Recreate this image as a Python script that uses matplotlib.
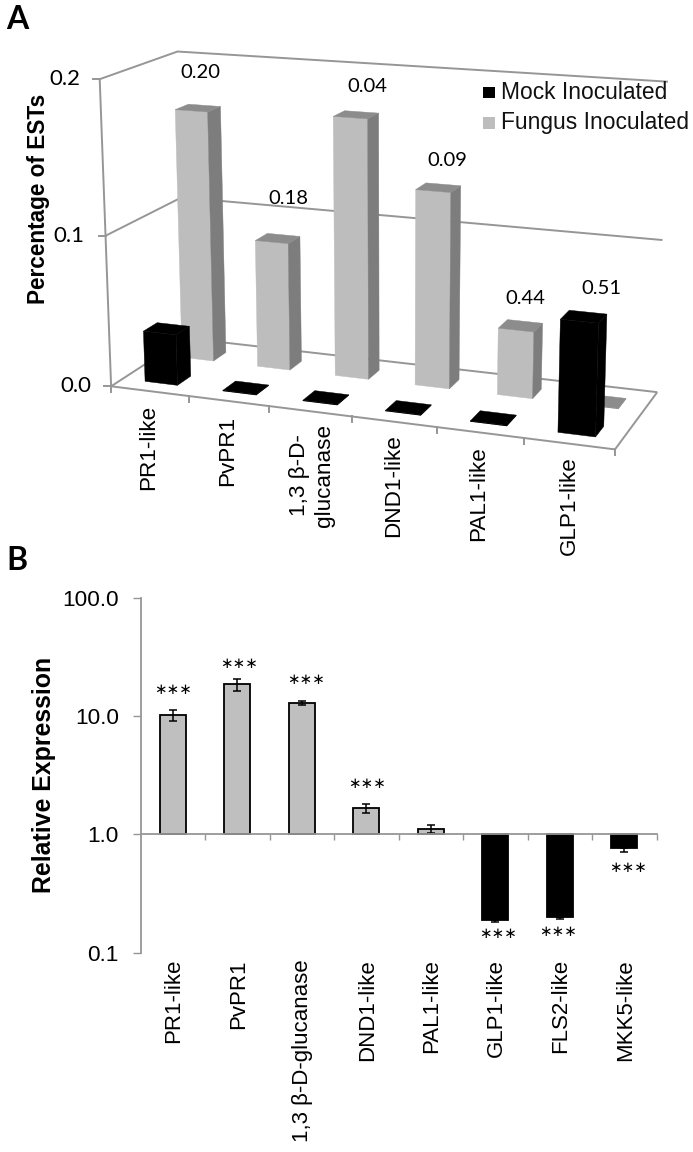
import numpy as np
import matplotlib
matplotlib.use("Agg")
import matplotlib.pyplot as plt
from matplotlib.patches import Polygon, Rectangle

plt.rcParams['font.family'] = ['Liberation Sans', 'DejaVu Sans']

# panel A data
genes_a = ['PR1-like', 'PvPR1', '1,3 β-D-\nglucanase', 'DND1-like', 'PAL1-like', 'GLP1-like']
mock = [0.034, 0.0004, 0.0004, 0.0004, 0.0004, 0.071]
fungus = [0.169, 0.086, 0.172, 0.129, 0.044, 0.0004]
pvals = ['0.20', '0.18', '0.04', '0.09', '0.44', '0.51']
ticks_a = [0.0, 0.1, 0.2]

# panel B data
genes_b = ['PR1-like', 'PvPR1', '1,3 β-D-glucanase', 'DND1-like', 'PAL1-like',
           'GLP1-like', 'FLS2-like', 'MKK5-like']
rel_expr = [10.3, 18.5, 12.9, 1.66, 1.115, 0.189, 0.201, 0.76]
err_hi = [11.3, 20.5, 13.4, 1.79, 1.205, 0.189, 0.201, 0.76]
err_lo = [9.1, 16.3, 12.4, 1.53, 1.03, 0.182, 0.192, 0.704]
signif = [True, True, True, True, False, True, True, True]

GRID = '#969696'
W, H = 693, 1152

fig = plt.figure(figsize=(W / 100, H / 100), dpi=100)
ov = fig.add_axes([0, 0, 1, 1])
ov.set_xlim(0, W)
ov.set_ylim(H, 0)
ov.axis('off')

# camera of the 3d chart, fitted on the corners of the box (u=category, v=depth, z=value)
cam_world = [(0, 0, .2), (0, 1, .2), (6, 1, .2), (0, 0, .1), (0, 1, .1), (6, 1, .1),
             (0, 0, 0), (0, 1, 0), (6, 1, 0), (6, 0, 0), (3, 0, 0)]
cam_img = [(100, 79), (177, 52), (668, 82), (106, 235), (181, 197), (663, 240),
           (111, 387), (186, 338), (657, 392), (615, 449), (351, 417)]
rows = []
for (u, v, z), (x, y) in zip(cam_world, cam_img):
    z = z * 10
    rows.append([u, v, z, 1, 0, 0, 0, 0, -x * u, -x * v, -x * z, -x])
    rows.append([0, 0, 0, 0, u, v, z, 1, -y * u, -y * v, -y * z, -y])
P = np.linalg.svd(np.array(rows, float))[2][-1].reshape(3, 4)


def proj(u, v, z):
    p = P @ np.array([u, v, z * 10, 1.0])
    return p[0] / p[2], p[1] / p[2]


def line3d(pts, **kw):
    xy = np.array([proj(*p) for p in pts])
    ov.plot(xy[:, 0], xy[:, 1], color=GRID, lw=1.4, solid_capstyle='butt', **kw)


n = len(genes_a)
for t in ticks_a:
    line3d([(0, 0, t), (0, 1, t), (n, 1, t)])
line3d([(0, 0, 0), (n, 0, 0), (n, 1, 0)])
line3d([(0, 0, 0), (0, 0, ticks_a[-1])])
for t in ticks_a:
    x, y = proj(0, 0, t)
    ov.plot([x - 7, x], [y, y], color=GRID, lw=1.4)
for i in range(n + 1):
    x, y = proj(i, 0, 0)
    ov.plot([x, x], [y, y + 6], color=GRID, lw=1.4)


def bar3d(i, off, v0, v1, val, front, side, top):
    u0, u1 = i + 0.5 + off - 0.21, i + 0.5 + off + 0.21
    faces = [([(u0, v0, 0), (u1, v0, 0), (u1, v0, val), (u0, v0, val)], front),
             ([(u1, v0, 0), (u1, v1, 0), (u1, v1, val), (u1, v0, val)], side),
             ([(u0, v0, val), (u1, v0, val), (u1, v1, val), (u0, v1, val)], top)]
    for pts, col in faces:
        # above the grid lines, which are drawn at zorder 2
        ov.add_patch(Polygon([proj(*p) for p in pts], closed=True, fc=col, ec=col, lw=0.3, zorder=2.5))


for i, val in enumerate(fungus):
    if val < 0.001:
        bar3d(i, 0.01, 0.64, 0.82, val, '#8c8c8c', '#8c8c8c', '#8c8c8c')
    else:
        bar3d(i, 0.01, 0.64, 0.82, val, '#bdbdbd', '#7d7d7d', '#8c8c8c')
for i, val in enumerate(mock):
    bar3d(i, 0.0, 0.15, 0.33, val, 'black', 'black', 'black')

# value labels of panel A
label_x = [200, 288, 367, 447, 525, 601]
label_y = [72, 198, 86, 160, 298, 288]
for x, y, s in zip(label_x, label_y, pvals):
    ov.text(x, y, s, ha='center', va='center', fontsize=14.6, family='Lato')

tick_right = [91, 84, 80]
for t, xr in zip(ticks_a, tick_right):
    ov.text(xr, proj(0, 0, t)[1], '%.1f' % t, ha='right', va='center', fontsize=16, family='Lato')

ov.text(39, 199, 'Percentage of ESTs', rotation=90, ha='center', va='center',
        fontsize=16.3, fontweight='bold')

# legend
ov.add_patch(Rectangle((483, 87), 12, 11, fc='black', ec='none'))
ov.add_patch(Rectangle((483, 117), 12, 12, fc='#bdbdbd', ec='none'))
ov.text(501, 92.5, 'Mock Inoculated', va='center', fontsize=16.4, color='#111111')
ov.text(501, 122.5, 'Fungus Inoculated', va='center', fontsize=16.4, color='#111111')

# category labels of panel A
cat_x = [149, 228, 312, 394, 479, 569]
cat_y = [405, 416, 424, 434, 446, 456]
for x, y, s in zip(cat_x, cat_y, genes_a):
    ov.text(x, y, s, rotation=90, ha='center', va='top', fontsize=16.2, linespacing=1.3,
            multialignment='center')

ov.text(6, 29, 'A', fontsize=23, fontweight='bold', family='Lato', va='baseline')
ov.text(6, 570, 'B', fontsize=23, fontweight='bold', family='Lato', va='baseline')

# panel B
ax = fig.add_axes([140.5 / W, 1 - 952.7 / H, 516 / W, 355 / H])
x = np.arange(len(genes_b)) + 0.5
ax.set_yscale('log')
ax.set_ylim(0.1, 100)
ax.set_xlim(0, len(genes_b))
ax.patch.set_visible(False)
for i, val in enumerate(rel_expr):
    up = val >= 1
    ax.bar(x[i], val - 1, bottom=1, width=0.41, fc='#bfbfbf' if up else 'black',
           ec='black', lw=1.3, zorder=2)
    ax.errorbar(x[i], val, yerr=[[val - err_lo[i]], [err_hi[i] - val]], color='black',
                capsize=3, elinewidth=1.1, capthick=1.1, zorder=3)
for s in ['top', 'right']:
    ax.spines[s].set_visible(False)
ax.spines['left'].set_color(GRID)
ax.spines['left'].set_linewidth(1.3)
ax.spines['bottom'].set_position(('data', 1))
ax.spines['bottom'].set_color(GRID)
ax.spines['bottom'].set_linewidth(1.3)
ax.spines['bottom'].set_zorder(4)
ax.set_yticks([0.1, 1, 10, 100])
ax.set_yticklabels(['0.1', '1.0', '10.0', '100.0'], fontsize=16.2)
ax.minorticks_off()
ax.tick_params(axis='y', length=5.5, width=1, color=GRID, pad=10)
ax.set_xticks(np.arange(1, len(genes_b) + 1))
ax.set_xticklabels([])
ax.tick_params(axis='x', length=4.5, width=1, color=GRID, direction='out')
for xi, s in zip(x, genes_b):
    ax.text(xi + 0.015, -0.018, s, rotation=90, ha='center', va='top', fontsize=16,
            transform=ax.get_xaxis_transform())
ov.text(44, 775, 'Relative Expression', rotation=90, ha='center', va='center',
        fontsize=17.9, fontweight='bold')

# significance stars
star_y = [690, 663, 680, 784, 0, 933, 932, 868]
star_x = [173, 239, 306.5, 367, 0, 498, 558.5, 628.5]
for sx, sy, sig in zip(star_x, star_y, signif):
    if sig:
        ov.text(sx, sy, '∗∗∗', ha='center', va='center', fontsize=10.8, family='DejaVu Sans')

fig.savefig('out.png', dpi=100)
